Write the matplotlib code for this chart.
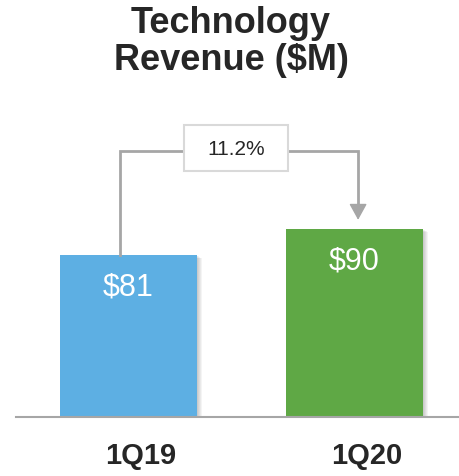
import numpy as np
import matplotlib
matplotlib.use('Agg')
import matplotlib.pyplot as plt
from matplotlib.transforms import ScaledTranslation
from matplotlib.patches import Rectangle

## Data
quarters = ['1Q19', '1Q20']
revenue = [81, 90]
value_labels = ['$81', '$90']
growth_label = '11.2%'

bar_colors = ['#5DAFE3', '#5FA845']
text_dark = '#262626'
line_grey = '#A6A6A6'

plt.rcParams['font.family'] = ['Liberation Sans', 'DejaVu Sans']

fig = plt.figure(figsize=(4.6, 4.77), dpi=100)
ax = fig.add_axes([0, 59 / 477, 1, 318 / 477])
ax.set_ylim(25, 135)
ax.set_xlim(-0.569, 1.467)
for s in ax.spines.values():
    s.set_visible(False)
ax.set_yticks([])

x = np.arange(len(quarters))
width = 0.606

# soft shadow behind the bars
for k in range(1, 6):
    off = ScaledTranslation(k / 100, -k / 100 * 0.6, fig.dpi_scale_trans)
    sh = ax.bar(x, [v - 25 for v in revenue], width=width, bottom=25,
                color='black', alpha=0.045, zorder=1)
    for r in sh:
        r.set_transform(ax.transData + off)

bars = ax.bar(x, [v - 25 for v in revenue], width=width, bottom=25,
              color=bar_colors, zorder=2)

# baseline
ax.plot([-0.5, 1.5], [25, 25], color=line_grey, lw=1.5, zorder=3, clip_on=False)

# value labels inside bars
for xi, v, lab in zip(x, revenue, value_labels):
    ax.annotate(lab, (xi, v), xytext=(0, -31), textcoords='offset pixels',
                ha='center', va='center', color='white', fontsize=22, zorder=4)

# growth connector
top = max(revenue) + 27
lx = x[0] - 0.038
rx = x[1] + 0.016
ax.plot([lx, lx, rx, rx], [revenue[0], top, top, revenue[1] + 8.2],
        color=line_grey, lw=2, zorder=3, solid_joinstyle='miter')
ax.annotate('', xy=(rx, revenue[1] + 3.2), xytext=(rx, revenue[1] + 8.5),
            arrowprops=dict(arrowstyle='-|>,head_length=1.0,head_width=0.55',
                            color=line_grey, lw=1, shrinkA=0, shrinkB=0))
ax.add_patch(Rectangle((0.2456, 110.15), 0.4602, 15.92, facecolor='white',
                       edgecolor='#D9D9D9', lw=1.5, zorder=4))
ax.text(0.478, 117.8, growth_label, ha='center', va='center',
        fontsize=15, color=text_dark, zorder=5)

# category labels
ax.set_xticks(x)
ax.set_xticklabels(quarters, fontsize=21, fontweight='bold', color=text_dark)
ax.tick_params(axis='x', length=0, pad=17)
for lab in ax.get_xticklabels():
    lab.set_transform(lab.get_transform() +
                      ScaledTranslation(12 / 100, 0, fig.dpi_scale_trans))

# title
fig.text(231 / 460, 1 - 33 / 477, 'Technology', ha='center', va='baseline',
         fontsize=26, fontweight='bold', color=text_dark)
fig.text(231 / 460, 1 - 70 / 477, 'Revenue ($M)', ha='center', va='baseline',
         fontsize=26, fontweight='bold', color=text_dark)

plt.savefig('out.png', dpi=100, facecolor='white')
